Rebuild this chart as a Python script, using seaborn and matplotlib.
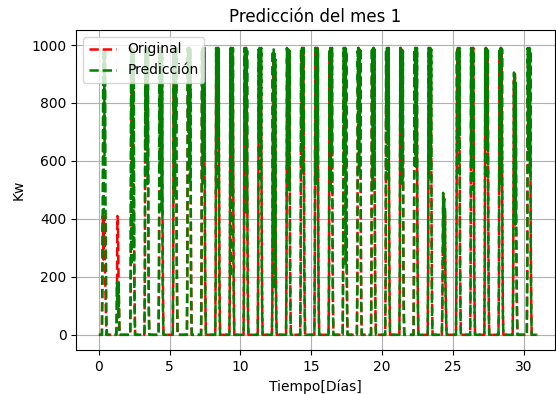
import matplotlib
matplotlib.use('Agg')
import matplotlib.pyplot as plt
import numpy as np
import pandas as pd
import seaborn as sns

# valores de la ventana activa de cada dia (Kw), el resto del dia es 0
original = [
    [0, 190, 410, 260, 405, 300, 410, 220, 150, 80, 0, 0],
    [0, 0, 120, 410, 395, 260, 140, 60, 0, 0, 0, 0],
    [0, 220, 760, 980, 690, 970, 820, 990, 560, 300, 110, 0],
    [0, 180, 860, 990, 760, 980, 900, 970, 640, 350, 90, 0],
    [0, 260, 720, 985, 880, 990, 700, 975, 800, 420, 150, 0],
    [0, 150, 900, 970, 820, 990, 760, 980, 600, 280, 100, 0],
    [0, 300, 820, 990, 900, 975, 680, 985, 720, 380, 130, 0],
    [0, 200, 760, 980, 700, 990, 850, 970, 520, 260, 80, 0],
    [0, 240, 880, 975, 820, 985, 910, 990, 680, 330, 120, 0],
    [0, 170, 700, 990, 760, 980, 640, 975, 760, 400, 140, 0],
    [0, 280, 840, 985, 900, 990, 720, 980, 580, 300, 90, 0],
    [0, 190, 920, 990, 780, 970, 860, 985, 700, 350, 110, 0],
    [0, 120, 640, 950, 700, 930, 520, 900, 430, 220, 60, 0],
    [0, 230, 780, 980, 860, 990, 740, 975, 620, 310, 100, 0],
    [0, 210, 860, 985, 720, 990, 880, 980, 660, 360, 130, 0],
    [0, 260, 740, 990, 820, 975, 700, 990, 560, 280, 90, 0],
    [0, 180, 900, 980, 760, 985, 820, 970, 720, 380, 120, 0],
    [0, 300, 800, 975, 880, 990, 690, 985, 600, 320, 100, 0],
    [0, 160, 720, 990, 800, 980, 900, 975, 680, 340, 110, 0],
    [0, 250, 880, 985, 740, 990, 780, 980, 540, 270, 80, 0],
    [0, 220, 760, 980, 860, 975, 720, 990, 700, 360, 120, 0],
    [0, 190, 840, 990, 700, 985, 860, 970, 620, 300, 100, 0],
    [0, 270, 700, 975, 820, 990, 680, 985, 580, 290, 90, 0],
    [0, 200, 880, 990, 780, 980, 840, 975, 660, 330, 110, 0],
    [0, 90, 300, 480, 360, 470, 280, 420, 200, 110, 40, 0],
    [0, 240, 780, 985, 880, 990, 720, 980, 640, 320, 100, 0],
    [0, 180, 860, 980, 740, 975, 900, 990, 600, 300, 90, 0],
    [0, 260, 740, 990, 820, 985, 700, 970, 680, 340, 120, 0],
    [0, 200, 900, 975, 760, 990, 820, 985, 560, 280, 80, 0],
    [0, 150, 520, 880, 640, 900, 560, 860, 420, 210, 70, 0],
    [0, 230, 800, 980, 860, 990, 740, 975, 620, 310, 100, 0],
]

prediccion = [
    [0, 200, 560, 990, 420, 985, 620, 990, 480, 260, 90, 0],
    [0, 40, 180, 90, 170, 60, 185, 30, 0, 0, 0, 0],
    [0, 160, 990, 240, 985, 560, 990, 300, 980, 180, 60, 0],
    [0, 220, 985, 640, 990, 700, 980, 520, 990, 250, 80, 0],
    [0, 190, 990, 560, 985, 720, 990, 430, 975, 200, 70, 0],
    [0, 250, 980, 620, 990, 480, 985, 700, 990, 280, 90, 0],
    [0, 180, 990, 700, 980, 600, 990, 520, 985, 220, 60, 0],
    [0, 230, 985, 520, 990, 760, 980, 620, 990, 260, 80, 0],
    [0, 170, 990, 640, 985, 500, 990, 720, 980, 200, 70, 0],
    [0, 260, 980, 200, 990, 620, 985, 480, 990, 240, 90, 0],
    [0, 200, 990, 560, 985, 700, 990, 420, 980, 210, 60, 0],
    [0, 240, 985, 680, 990, 540, 980, 640, 990, 260, 80, 0],
    [0, 120, 980, 300, 985, 160, 970, 260, 950, 150, 40, 0],
    [0, 220, 990, 600, 985, 720, 990, 500, 980, 230, 70, 0],
    [0, 190, 985, 660, 990, 560, 985, 700, 990, 250, 90, 0],
    [0, 250, 990, 520, 980, 680, 990, 600, 985, 220, 60, 0],
    [0, 200, 985, 700, 990, 500, 980, 640, 990, 260, 80, 0],
    [0, 230, 990, 580, 985, 740, 990, 240, 980, 200, 70, 0],
    [0, 180, 980, 640, 990, 560, 985, 700, 990, 240, 90, 0],
    [0, 260, 990, 500, 980, 660, 990, 580, 985, 210, 60, 0],
    [0, 210, 985, 720, 990, 540, 980, 660, 990, 250, 80, 0],
    [0, 240, 990, 600, 985, 700, 990, 520, 980, 230, 70, 0],
    [0, 190, 985, 660, 990, 580, 985, 720, 990, 260, 90, 0],
    [0, 250, 990, 540, 980, 700, 990, 600, 985, 220, 60, 0],
    [0, 80, 250, 490, 300, 470, 260, 440, 180, 100, 30, 0],
    [0, 220, 985, 640, 990, 560, 980, 700, 990, 250, 80, 0],
    [0, 200, 990, 580, 985, 720, 990, 500, 980, 230, 70, 0],
    [0, 240, 985, 700, 990, 540, 985, 640, 990, 260, 90, 0],
    [0, 190, 990, 520, 980, 680, 990, 580, 985, 220, 60, 0],
    [0, 160, 500, 905, 420, 890, 380, 870, 300, 150, 50, 0],
    [0, 230, 990, 640, 985, 700, 990, 560, 980, 250, 80, 0],
]

pasos = 32          # muestras por dia
inicio = 7          # primera muestra de la ventana activa
n_dias = len(original)

t = np.arange(n_dias * pasos) / pasos
orig = np.zeros(n_dias * pasos)
pred = np.zeros(n_dias * pasos)
for d in range(n_dias):
    a = d * pasos + inicio
    orig[a:a + len(original[d])] = original[d]
    pred[a:a + len(prediccion[d])] = prediccion[d]

df = pd.DataFrame({'t': t, 'Original': orig, 'Predicción': pred})

fig, ax = plt.subplots(figsize=(5.56, 3.94), dpi=100)
sns.lineplot(x='t', y='Original', data=df, color='r', linestyle='--',
             linewidth=1.8, label='Original', estimator=None, ax=ax)
sns.lineplot(x='t', y='Predicción', data=df, color='g', linestyle='--',
             linewidth=1.8, label='Predicción', estimator=None, ax=ax)

ax.set_title('Predicción del mes 1')
ax.set_xlabel('Tiempo[Días]')
ax.set_ylabel('Kw')
ax.grid(True)
ax.set_xlim(-1.6, 32.2)
ax.set_ylim(-52, 1052)
ax.legend(loc='upper left')

fig.subplots_adjust(left=0.137, right=0.998, top=0.924, bottom=0.112)
fig.savefig('out.png', dpi=100)
